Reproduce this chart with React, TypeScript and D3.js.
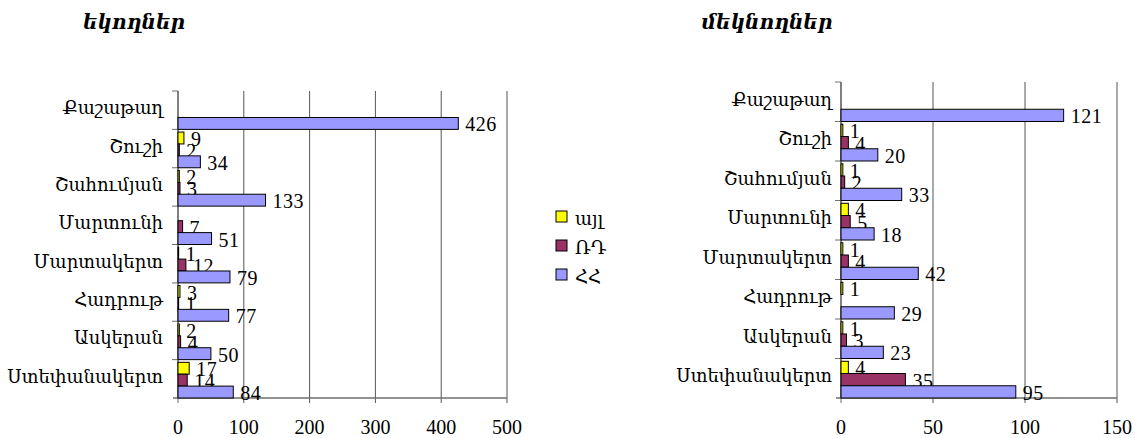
import React from "react";
import * as d3 from "d3";

const categories = ["Քաշաթաղ", "Շուշի", "Շահումյան", "Մարտունի", "Մարտակերտ", "Հադրութ", "Ասկերան", "Ստեփանակերտ"];
const seriesNames = ["այլ", "ՌԴ", "ՀՀ"];
const seriesColors = ["#FFFF00", "#993366", "#9999FF"];

const arrivalsOther: (number | null)[] = [null, 9, 2, null, 1, 3, 2, 17];
const arrivalsRF: (number | null)[] = [null, 2, 3, 7, 12, 1, 4, 14];
const arrivalsRA: (number | null)[] = [426, 34, 133, 51, 79, 77, 50, 84];

const departuresOther: (number | null)[] = [null, 1, 1, 4, 1, 1, 1, 4];
const departuresRF: (number | null)[] = [null, 4, 2, 5, 4, null, 3, 35];
const departuresRA: (number | null)[] = [121, 20, 33, 18, 42, 29, 23, 95];

const arrivalsTicks = [0, 100, 200, 300, 400, 500];
const departuresTicks = [0, 50, 100, 150];

const titleArrivals = "եկողներ";
const titleDepartures = "մեկնողներ";

const SERIF = "'Liberation Serif', 'DejaVu Serif', 'Times New Roman', serif";

type PanelProps = {
  title: string;
  titleX: number;
  series: (number | null)[][];
  ticks: number[];
  left: number;
  right: number;
  top: number;
  bottom: number;
  labelGap: number;
};

function Panel({ title, titleX, series, ticks, left, right, top, bottom, labelGap }: PanelProps) {
  const x = d3.scaleLinear().domain([ticks[0], ticks[ticks.length - 1]]).range([left, right]);
  const y = d3.scaleBand<string>().domain(categories).range([top, bottom]).padding(0);
  const bw = y.bandwidth();
  const sub = d3.scaleBand<string>().domain(seriesNames).range([bw * 0.07, bw]).padding(0);
  const axisColor = "#6e6e6e";
  return (
    <g>
      <text x={titleX} y={29} textAnchor="middle" fontFamily="'DejaVu Serif', serif" fontStyle="italic" fontWeight="bold" fontSize={20} fill="#000">
        {title}
      </text>
      {ticks.map((t) => (
        <line key={"g" + t} x1={x(t)} x2={x(t)} y1={top} y2={bottom + 5} stroke={t === 0 ? axisColor : "#555"} strokeWidth={1} />
      ))}
      <line x1={left - 5} x2={right} y1={bottom} y2={bottom} stroke={axisColor} strokeWidth={1.5} />
      <line x1={left} x2={left} y1={top} y2={bottom} stroke={axisColor} strokeWidth={1.5} />
      {categories.map((c, i) => (
        <line key={"ct" + i} x1={left - 6} x2={left} y1={(y(c) as number)} y2={(y(c) as number)} stroke={axisColor} />
      ))}
      {categories.map((c, i) => (
        <text key={"cl" + i} x={left - labelGap} y={(y(c) as number) + bw / 2 - 2} textAnchor="end" dominantBaseline="central" fontFamily={SERIF} fontSize={18} fill="#000">
          {c}
        </text>
      ))}
      {ticks.map((t) => (
        <text key={"tl" + t} x={x(t)} y={bottom + 36} textAnchor="middle" fontFamily={SERIF} fontSize={20} fill="#000">
          {t}
        </text>
      ))}
      {series.map((vals, si) =>
        vals.map((v, ci) => {
          if (v === null) return null;
          const yy = (y(categories[ci]) as number) + (sub(seriesNames[si]) as number);
          const h = sub.bandwidth();
          return (
            <g key={"b" + si + "-" + ci}>
              <rect x={x(0)} y={yy} width={x(v) - x(0)} height={h} fill={seriesColors[si]} stroke="#000" strokeWidth={1} />
              <text x={x(v) + 7} y={yy + h / 2 + 1} dominantBaseline="central" fontFamily={SERIF} fontSize={20} letterSpacing={0.5} fill="#000">
                {v}
              </text>
            </g>
          );
        })
      )}
    </g>
  );
}

export default function App() {
  return (
    <div style={{ position: "absolute", left: 0, top: 0 }}>
      <svg width={1138} height={438} style={{ display: "block", background: "#fff" }}>
        <rect width={1138} height={438} fill="#fff" />
        <Panel
          title={titleArrivals}
          titleX={134}
          series={[arrivalsOther, arrivalsRF, arrivalsRA]}
          ticks={arrivalsTicks}
          left={178}
          right={507}
          top={91}
          bottom={398}
          labelGap={15}
        />
        <Panel
          title={titleDepartures}
          titleX={767}
          series={[departuresOther, departuresRF, departuresRA]}
          ticks={departuresTicks}
          left={841}
          right={1117}
          top={82}
          bottom={398}
          labelGap={9}
        />
        {seriesNames.map((s, i) => (
          <g key={"lg" + i}>
            <rect x={556} y={211 + i * 29} width={11} height={11} fill={seriesColors[i]} stroke="#000" strokeWidth={1} />
            <text x={575} y={225 + i * 29} fontFamily={SERIF} fontSize={18} fill="#000">
              {s}
            </text>
          </g>
        ))}
      </svg>
    </div>
  );
}
